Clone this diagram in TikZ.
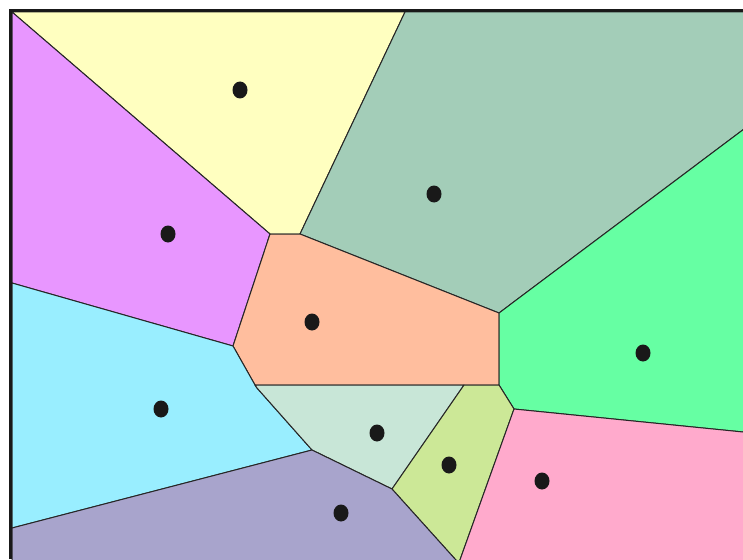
\documentclass[tikz,border=0pt]{standalone}
\usetikzlibrary{calc}
\definecolor{cyel}{HTML}{FFFFC0}
\definecolor{cvio}{HTML}{E896FF}
\definecolor{csage}{HTML}{A3CDB8}
\definecolor{corange}{HTML}{FFBE9E}
\definecolor{cgreen}{HTML}{66FFA3}
\definecolor{ccyan}{HTML}{99EEFF}
\definecolor{cmint}{HTML}{C8E6D7}
\definecolor{clgreen}{HTML}{CCE897}
\definecolor{cpink}{HTML}{FFAACC}
\definecolor{clilac}{HTML}{A8A4CC}
\definecolor{cedge}{HTML}{262626}
\tikzset{
  cell/.style={draw=cedge, line width=1pt, line join=round},
  site/.style={fill=black!90, draw=none},
  frameline/.style={draw=black!90, line width=3pt}
}
\begin{document}
\begin{tikzpicture}[x=1pt,y=-1pt]
\useasboundingbox (0,0) rectangle (743,559);
\fill[white] (0,0) rectangle (743,559);
\begin{scope}
\clip (0,0) rectangle (743,559);
% vertices
\coordinate (TL) at (12,12);
\coordinate (T1) at (405,12);
\coordinate (TR) at (748,12);
\coordinate (R1) at (748,126);
\coordinate (R2) at (748,432.5);
\coordinate (BR) at (748,564);
\coordinate (L1) at (12,283);
\coordinate (L2) at (12,528);
\coordinate (BL) at (12,564);
\coordinate (B1) at (459.5,564);
\coordinate (B2) at (458.5,564);
\coordinate (vB) at (270,234);
\coordinate (vC) at (300,234);
\coordinate (vD) at (499,313);
\coordinate (vE) at (499,385);
\coordinate (vF) at (255,385);
\coordinate (vF2) at (257,388);
\coordinate (vG) at (233,346);
\coordinate (vH) at (514,409);
\coordinate (vI) at (464,385);
\coordinate (vJ) at (392,489);
\coordinate (vK) at (312,450);
% cells
\path[cell, fill=cyel] (TL) -- (T1) -- (vC) -- (vB) -- cycle;
\path[cell, fill=cvio] (TL) -- (vB) -- (vG) -- (L1) -- cycle;
\path[cell, fill=csage] (T1) -- (TR) -- (R1) -- (vD) -- (vC) -- cycle;
\path[cell, fill=corange] (vB) -- (vC) -- (vD) -- (vE) -- (vF) -- (vG) -- cycle;
\path[cell, fill=cgreen] (vD) -- (R1) -- (R2) -- (vH) -- (vE) -- cycle;
\path[cell, fill=ccyan] (L1) -- (vG) -- (vF) -- (vF2) -- (vK) -- (L2) -- cycle;
\path[cell, fill=cmint] (vF) -- (vI) -- (vJ) -- (vK) -- (vF2) -- cycle;
\path[cell, fill=clgreen] (vI) -- (vE) -- (vH) -- (B2) -- (B1) -- (vJ) -- cycle;
\path[cell, fill=cpink] (vH) -- (R2) -- (BR) -- (B2) -- cycle;
\path[cell, fill=clilac] (L2) -- (vK) -- (vJ) -- (B1) -- (BL) -- cycle;
\end{scope}
% sites
\fill[site] (240,90) ellipse (7.5pt and 8.5pt);
\fill[site] (168,234) ellipse (7.5pt and 8.5pt);
\fill[site] (434,194) ellipse (7.5pt and 8.5pt);
\fill[site] (312,322) ellipse (7.5pt and 8.5pt);
\fill[site] (643,353) ellipse (7.5pt and 8.5pt);
\fill[site] (161,409) ellipse (7.5pt and 8.5pt);
\fill[site] (377,433) ellipse (7.5pt and 8.5pt);
\fill[site] (449,465) ellipse (7.5pt and 8.5pt);
\fill[site] (542,481) ellipse (7.5pt and 8.5pt);
\fill[site] (341,513) ellipse (7.5pt and 8.5pt);
% frame
\draw[frameline] (10.5,559) -- (10.5,10.5) -- (743,10.5);
\end{tikzpicture}
\end{document}
